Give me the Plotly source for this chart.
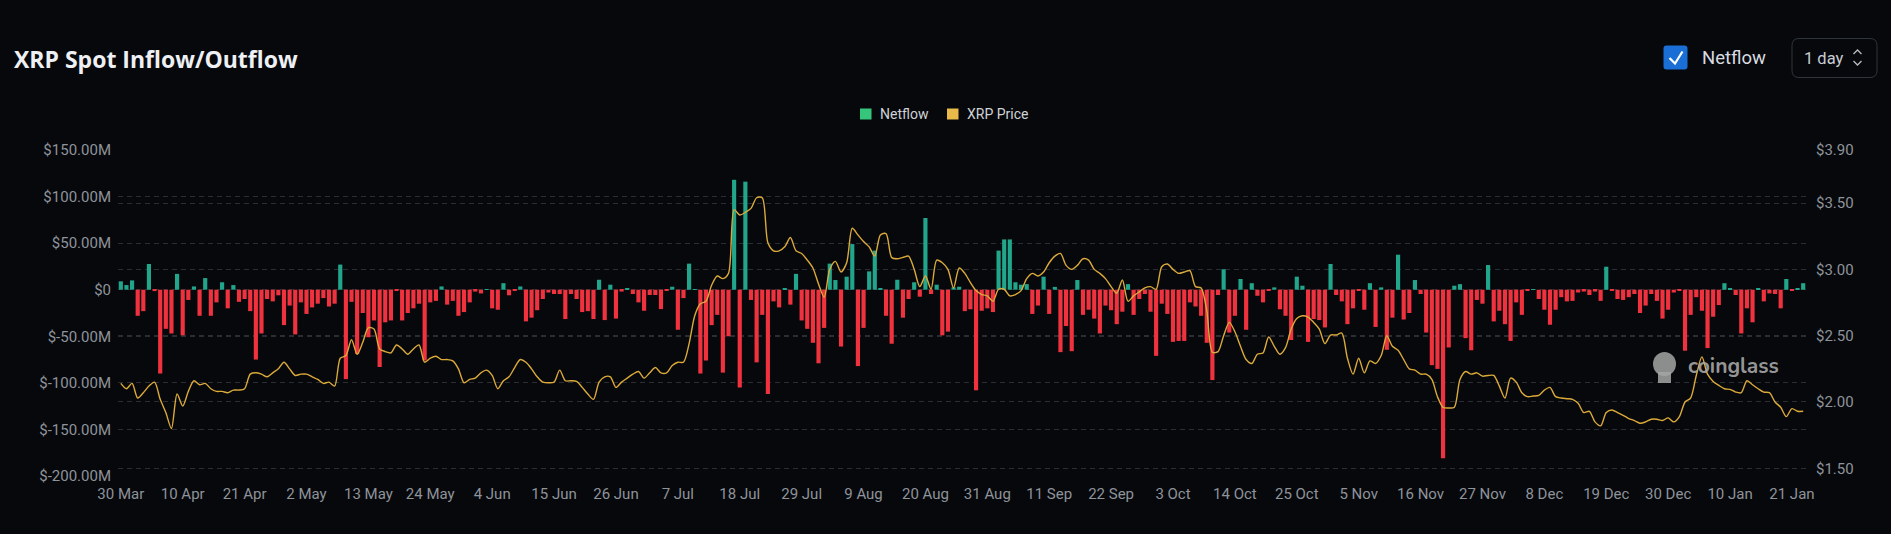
import pandas as pd
import plotly.graph_objects as go

# ---------------- data ----------------
start_date = "2025-03-30"
n_days = 300

netflow_m = [
    9, 5, 10, -28, -23, 27.6, -1.5, -90, -42, -47,
    17, -49, -11, 3.5, -28, 12.5, -28, -13.6, 8, -20,
    5, -13, -10, -23, -75, -47, -10, -12.5, -6, -38,
    -17, -48, -13.6, -26, -19, -15, -9, -18, -15, 27,
    -96, -13, -69, -25, -51, -33, -83, -35, -33, -0.5,
    -33, -25, -20, -15, -76, -13.6, -12, 3.5, -16, -12,
    -28, -24, -13.6, -2, -4, 0.7, -20, -21.5, 7, -6,
    -0.5, 3.5, -34, -30, -22, -10, -3, -4.6, -4.6, -31.5,
    -4.6, -10, -24, -23, -31.5, 10.7, -32.6, 5.4, -31, -2,
    1.4, -4.6, -13.6, -22.6, -5.7, -5.7, -20.8, -1, 3.2, -43,
    -9, 28, 0.5, -90, -76, -38, -27, -89, -50, 118,
    -105, 116, -11, -78, -27, -112, -12.5, -19, 1.8, -16,
    17, -33, -42, -57, -79, -41, 28, 10.4, -61, 14,
    49, -82, -41, 19.7, 42, 1.4, -28, -58, 10.7, -30,
    -10, 8, -7.5, 77, -4.6, 5.4, -49, -45, 2.5, 3.2,
    -23, -21, -108, -22.6, -20, -24, 42, 54, 54, 8,
    5.4, 6, -26, -17, 14, -26, 3, -67, -39, -66,
    10.4, -27, -21.5, -31, -47, -17, -22, -37, -23.6, 6,
    -27, -10, -4.6, -23.6, -71, -15, -26, -56, -55, -55,
    -13.6, -18, -28, -57, -97, -5.7, 22, -46, -28, 11.5,
    -43, 7, -6.5, -13.6, -1, 2.5, -21, -28, -54, 14,
    4.3, -56, -31.5, -32.6, -40.5, 27.6, -5.7, -12.5, -37, -20,
    -0.5, -21.5, 7, -40, 2.5, -64.5, -30, 37.6, -32, -25,
    10.4, -4.6, -46, -81, -85, -181, -62, 4.3, 6, -52,
    -65, -11, -15, 26.5, -34, -22.6, -37, -55, -13.6, -27,
    -1, 0.7, -10, -21.5, -37.6, -21.5, -8, -12.5, -12, -3,
    -2, -5.7, -2, -12, 24.7, -0.5, -10, -11, -8, -4.6,
    -25, -17, -4.6, -12, -31, -21.5, -3, -1, -65.5, -27,
    -8, -22.6, -62.7, -29, -16.5, 7, 1.8, -5.7, -47, -20,
    -35, 1.8, -12.5, -4, -4.6, -20, 11.5, -1, 1.8, 7,
]

xrp_price = [
    2.14, 2.10, 2.14, 2.03, 2.07, 2.12, 2.15, 2.02, 1.92, 1.80,
    2.06, 1.97, 2.08, 2.16, 2.13, 2.14, 2.10, 2.08, 2.08, 2.07,
    2.09, 2.09, 2.10, 2.21, 2.22, 2.21, 2.19, 2.22, 2.25, 2.30,
    2.25, 2.20, 2.21, 2.21, 2.19, 2.17, 2.14, 2.15, 2.12, 2.33,
    2.35, 2.47, 2.36, 2.45, 2.56, 2.55, 2.40, 2.38, 2.37, 2.43,
    2.40, 2.36, 2.40, 2.43, 2.30, 2.33, 2.345, 2.32, 2.32, 2.31,
    2.25, 2.145, 2.17, 2.18, 2.22, 2.24, 2.20, 2.10, 2.16, 2.19,
    2.26, 2.32, 2.30, 2.25, 2.19, 2.15, 2.145, 2.15, 2.24, 2.16,
    2.16, 2.155, 2.11, 2.06, 2.02, 2.15, 2.19, 2.19, 2.11, 2.15,
    2.18, 2.21, 2.23, 2.18, 2.22, 2.26, 2.22, 2.22, 2.275, 2.30,
    2.30, 2.44, 2.65, 2.74, 2.76, 2.88, 2.95, 2.93, 2.97, 3.45,
    3.41, 3.43, 3.46, 3.54, 3.54, 3.20, 3.14, 3.14, 3.17, 3.24,
    3.14, 3.12, 3.07, 3.01, 2.89, 2.79, 3.00, 3.06, 2.98, 3.05,
    3.31, 3.26, 3.21, 3.17, 3.10, 3.26, 3.27, 3.09, 3.08, 3.09,
    3.10, 3.00, 2.87, 2.95, 2.85, 3.07, 3.05, 3.00, 2.86, 3.01,
    2.97, 2.90, 2.84, 2.81, 2.80, 2.76, 2.85, 2.85, 2.80, 2.81,
    2.84, 2.93, 2.97, 2.95, 2.98, 3.05, 3.10, 3.12, 3.03, 3.00,
    3.03, 3.08, 3.07, 3.00, 2.97, 2.93, 2.87, 2.82, 2.92, 2.76,
    2.80, 2.83, 2.86, 2.87, 2.85, 3.02, 3.04, 3.00, 2.97, 2.98,
    2.99, 2.87, 2.86, 2.69, 2.375, 2.38, 2.50, 2.60, 2.53, 2.42,
    2.32, 2.29, 2.36, 2.37, 2.49, 2.42, 2.36, 2.41, 2.55, 2.63,
    2.65, 2.64, 2.60, 2.55, 2.44, 2.505, 2.505, 2.52, 2.33, 2.21,
    2.33, 2.22, 2.31, 2.29, 2.35, 2.50, 2.42, 2.39, 2.32, 2.25,
    2.24, 2.21, 2.21, 2.17, 2.04, 1.96, 1.955, 1.96, 2.17, 2.23,
    2.21, 2.22, 2.195, 2.20, 2.20, 2.12, 2.03, 2.18, 2.15, 2.07,
    2.04, 2.045, 2.05, 2.09, 2.11, 2.04, 2.03, 2.025, 2.02, 1.99,
    1.92, 1.93, 1.85, 1.82, 1.92, 1.94, 1.92, 1.90, 1.875, 1.86,
    1.84, 1.85, 1.87, 1.87, 1.86, 1.88, 1.85, 1.89, 2.00, 2.03,
    2.20, 2.34, 2.21, 2.155, 2.125, 2.10, 2.095, 2.075, 2.07, 2.16,
    2.13, 2.10, 2.075, 2.07, 2.00, 1.96, 1.89, 1.95, 1.93, 1.93,
]

x_tick_dates = [
    "2025-03-30", "2025-04-10", "2025-04-21", "2025-05-02", "2025-05-13",
    "2025-05-24", "2025-06-04", "2025-06-15", "2025-06-26", "2025-07-07",
    "2025-07-18", "2025-07-29", "2025-08-09", "2025-08-20", "2025-08-31",
    "2025-09-11", "2025-09-22", "2025-10-03", "2025-10-14", "2025-10-25",
    "2025-11-05", "2025-11-16", "2025-11-27", "2025-12-08", "2025-12-19",
    "2025-12-30", "2026-01-10", "2026-01-21",
]
x_tick_labels = [
    "30 Mar", "10 Apr", "21 Apr", "2 May", "13 May", "24 May", "4 Jun",
    "15 Jun", "26 Jun", "7 Jul", "18 Jul", "29 Jul", "9 Aug", "20 Aug",
    "31 Aug", "11 Sep", "22 Sep", "3 Oct", "14 Oct", "25 Oct", "5 Nov",
    "16 Nov", "27 Nov", "8 Dec", "19 Dec", "30 Dec", "10 Jan", "21 Jan",
]
left_tick_vals = [150, 100, 50, 0, -50, -100, -150, -200]
left_tick_text = ["$150.00M", "$100.00M", "$50.00M", "$0", "$-50.00M",
                  "$-100.00M", "$-150.00M", "$-200.00M"]
right_tick_vals = [3.9, 3.5, 3.0, 2.5, 2.0, 1.5]
right_tick_text = ["$3.90", "$3.50", "$3.00", "$2.50", "$2.00", "$1.50"]

# ---------------- styling ----------------
W, H = 1891, 534
ML, MR, MT, MB = 118, 85, 150, 58
PW, PH = W - ML - MR, H - MT - MB
BG = "#06080c"
GRID = "#2a2d34"
TICK = "#8f939a"
POS = "#21a58b"
NEG = "#f0323f"
LINE = "#dcaa3a"
FONT = "Roboto"
TFS = 15


def px(x):
    return (x - ML) / PW


def py(y):
    return (H - MB - y) / PH


dates = pd.date_range(start_date, periods=n_days, freq="D")
bar_colors = [POS if v >= 0 else NEG for v in netflow_m]

fig = go.Figure()
fig.add_trace(go.Bar(
    x=dates, y=netflow_m, marker=dict(color=bar_colors, line=dict(width=0)),
    name="Netflow", showlegend=False, yaxis="y",
))
fig.add_trace(go.Scatter(
    x=dates, y=xrp_price, mode="lines", name="XRP Price", showlegend=False,
    line=dict(color=LINE, width=1.4, shape="spline", smoothing=0.8), yaxis="y2",
))

x0 = dates[0] - pd.Timedelta(hours=12)
x1 = dates[-1] + pd.Timedelta(hours=12)

fig.update_layout(
    width=W, height=H,
    margin=dict(l=ML, r=MR, t=MT, b=MB, autoexpand=False),
    paper_bgcolor=BG, plot_bgcolor=BG,
    bargap=0.26,
    showlegend=False,
    font=dict(family=FONT, color=TICK, size=TFS),
    xaxis=dict(
        type="date", range=[x0, x1],
        tickvals=pd.to_datetime(x_tick_dates), ticktext=x_tick_labels,
        showgrid=False, zeroline=False, showline=False, ticks="",
        ticklabelstandoff=7,
        tickfont=dict(size=TFS, color=TICK, family=FONT),
    ),
    yaxis=dict(
        range=[-200, 150], tickvals=left_tick_vals, ticktext=left_tick_text,
        showgrid=True, gridcolor=GRID, griddash="5px,4px", gridwidth=1,
        zeroline=False, showline=False, ticks="",
        ticklabelstandoff=6,
        tickfont=dict(size=TFS, color=TICK, family=FONT),
        automargin=False,
    ),
    yaxis2=dict(
        range=[1.442, 3.9], overlaying="y", side="right",
        tickvals=right_tick_vals, ticktext=right_tick_text,
        showgrid=True, gridcolor=GRID, griddash="5px,4px", gridwidth=1,
        zeroline=False, showline=False, ticks="",
        ticklabelstandoff=9,
        tickfont=dict(size=TFS, color=TICK, family=FONT),
        automargin=False,
    ),
)

ann = []
shapes = []

# Title
ann.append(dict(text="<b>XRP Spot Inflow/Outflow</b>", x=px(12), y=py(59),
                xref="paper", yref="paper", xanchor="left", yanchor="middle",
                showarrow=False, font=dict(family="Open Sans", size=23, color="#eef0f4")))

# Checkbox
cb_l, cb_r, cb_t, cb_b, r = 1663.5, 1687.5, 45.5, 69.5, 3
path = (f"M {px(cb_l + r)},{py(cb_t)} L {px(cb_r - r)},{py(cb_t)} "
        f"Q {px(cb_r)},{py(cb_t)} {px(cb_r)},{py(cb_t + r)} "
        f"L {px(cb_r)},{py(cb_b - r)} Q {px(cb_r)},{py(cb_b)} {px(cb_r - r)},{py(cb_b)} "
        f"L {px(cb_l + r)},{py(cb_b)} Q {px(cb_l)},{py(cb_b)} {px(cb_l)},{py(cb_b - r)} "
        f"L {px(cb_l)},{py(cb_t + r)} Q {px(cb_l)},{py(cb_t)} {px(cb_l + r)},{py(cb_t)} Z")
shapes.append(dict(type="path", path=path, xref="paper", yref="paper",
                   fillcolor="#1a6fd6", line=dict(width=0)))
shapes.append(dict(type="path", xref="paper", yref="paper",
                   path=f"M {px(1669.5)},{py(58)} L {px(1675)},{py(63.5)} L {px(1682.5)},{py(51.5)}",
                   line=dict(color="white", width=2.2)))
ann.append(dict(text="Netflow", x=px(1700), y=py(58), xref="paper", yref="paper",
                xanchor="left", yanchor="middle", showarrow=False,
                font=dict(family=FONT, size=18.5, color="#d8dbe0")))

# "1 day" select
bl, br, bt, bb, rr = 1792, 1877, 38.5, 77.5, 7
path = (f"M {px(bl + rr)},{py(bt)} L {px(br - rr)},{py(bt)} "
        f"Q {px(br)},{py(bt)} {px(br)},{py(bt + rr)} "
        f"L {px(br)},{py(bb - rr)} Q {px(br)},{py(bb)} {px(br - rr)},{py(bb)} "
        f"L {px(bl + rr)},{py(bb)} Q {px(bl)},{py(bb)} {px(bl)},{py(bb - rr)} "
        f"L {px(bl)},{py(bt + rr)} Q {px(bl)},{py(bt)} {px(bl + rr)},{py(bt)} Z")
shapes.append(dict(type="path", path=path, xref="paper", yref="paper",
                   fillcolor="rgba(0,0,0,0)", line=dict(color="#30343b", width=1)))
ann.append(dict(text="1 day", x=px(1802), y=py(58), xref="paper", yref="paper",
                xanchor="left", yanchor="middle", showarrow=False,
                font=dict(family=FONT, size=16.5, color="#c9cdd3")))
shapes.append(dict(type="path", xref="paper", yref="paper",
                   path=f"M {px(1853.5)},{py(54)} L {px(1857.5)},{py(50)} L {px(1861.5)},{py(54)}",
                   line=dict(color="#b8bcc2", width=1.3)))
shapes.append(dict(type="path", xref="paper", yref="paper",
                   path=f"M {px(1853.5)},{py(61)} L {px(1857.5)},{py(65)} L {px(1861.5)},{py(61)}",
                   line=dict(color="#b8bcc2", width=1.3)))

# Legend (manual)
shapes.append(dict(type="rect", xref="paper", yref="paper",
                   x0=px(860), x1=px(871.5), y0=py(108.5), y1=py(119.5),
                   fillcolor="#35c67c", line=dict(width=0)))
ann.append(dict(text="Netflow", x=px(877.5), y=py(114), xref="paper", yref="paper",
                xanchor="left", yanchor="middle", showarrow=False,
                font=dict(family=FONT, size=14, color="#cfd2d6")))
shapes.append(dict(type="rect", xref="paper", yref="paper",
                   x0=px(947), x1=px(958.5), y0=py(108.5), y1=py(119.5),
                   fillcolor="#e9b949", line=dict(width=0)))
ann.append(dict(text="XRP Price", x=px(965.5), y=py(114), xref="paper", yref="paper",
                xanchor="left", yanchor="middle", showarrow=False,
                font=dict(family=FONT, size=14, color="#cfd2d6")))

# Watermark
shapes.append(dict(type="circle", xref="paper", yref="paper",
                   x0=px(1653), x1=px(1676), y0=py(352), y1=py(376),
                   fillcolor="rgba(165,165,165,0.85)", line=dict(width=0)))
shapes.append(dict(type="rect", xref="paper", yref="paper",
                   x0=px(1658), x1=px(1671), y0=py(372), y1=py(383),
                   fillcolor="rgba(165,165,165,0.85)", line=dict(width=0)))
ann.append(dict(text="<b>coinglass</b>", x=px(1686), y=py(366), xref="paper", yref="paper",
                xanchor="left", yanchor="middle", showarrow=False,
                font=dict(family="Nunito, Open Sans", size=21, color="rgba(170,170,170,0.9)")))

fig.update_layout(annotations=ann, shapes=shapes)
fig.write_html("out.html")
